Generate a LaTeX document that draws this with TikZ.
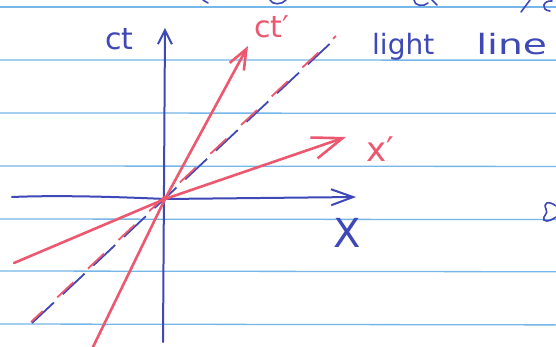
\documentclass[tikz,border=0pt]{standalone}
\usepackage{fontspec}
\setmainfont{DejaVu Sans}
\usetikzlibrary{arrows.meta}
\definecolor{penblue}{RGB}{62,72,182}
\definecolor{penred}{RGB}{236,88,112}
\definecolor{rule}{RGB}{118,182,232}
\tikzset{
  ruleline/.style={rule, line width=1.3pt},
  blueaxis/.style={penblue, line width=2pt, line cap=round},
  redaxis/.style={penred, line width=2.6pt, line cap=round},
  bluelabel/.style={penblue, inner sep=0pt},
  redlabel/.style={penred, inner sep=0pt},
  fragment/.style={penblue, line width=1.6pt, line cap=round},
}
\begin{document}
\begin{tikzpicture}[x=1pt,y=-1pt]
\useasboundingbox (0,0) rectangle (556,347);
\fill[white] (0,0) rectangle (556,347);
% ruled paper lines
\foreach \yy/\dd in {7/0,60/0.5,113/1,166/1.5,219/2,271/2.5,324/3}
  \draw[ruleline] (0,\yy) -- (556,\yy+\dd*0.3);
% fragments of handwriting cut at the edges
\draw[fragment] (203,0) -- (208,3);
\draw[fragment] (270,0) .. controls (272,5) and (282,5) .. (286,0);
\draw[fragment] (414,0) .. controls (414,6) and (424,7) .. (428,3);
\draw[fragment] (432,0) -- (437,5);
\draw[fragment] (521,12) -- (530,0);
\draw[fragment] (552,1) .. controls (543,0) and (540,10) .. (550,11);
\draw[fragment] (556,206) .. controls (548,200) and (543,203) .. (546,209)
  .. controls (549,214) and (542,216) .. (544,220) .. controls (547,223) and (553,219) .. (556,217);
% coordinates
\coordinate (O) at (165,199);
\coordinate (yb) at (163,342);
\coordinate (yt) at (165,28);
\coordinate (xl) at (12,197);
\coordinate (xr) at (356,197);
\coordinate (ctb) at (93,347);
\coordinate (ctt) at (248,46);
\coordinate (xpl) at (14,263);
\coordinate (xpr) at (346,137);
\coordinate (lb) at (32,323);
\coordinate (lt) at (337,37);
% rest frame axes
\draw[blueaxis, -{Straight Barb[length=14pt,width=14pt]}] (yb) -- (yt);
\draw[blueaxis, -{Straight Barb[length=22pt,width=16pt]}] (xl) .. controls (60,195) and (120,197) .. (O) -- (xr);
% light line
\draw[penblue, line width=1.8pt, dash pattern=on 30pt off 12pt] (lb) -- (lt);
\draw[penred, line width=1.8pt, dash pattern=on 22pt off 20pt, dash phase=6pt, transform canvas={xshift=-1pt,yshift=1pt}] (lb) -- (lt);
% moving frame axes
\draw[redaxis, -{Straight Barb[length=20pt,width=16pt]}] (ctb) -- (O) -- (ctt);
\draw[redaxis, -{Straight Barb[length=30pt,width=22pt]}] (xpl) -- (O) -- (xpr);
% labels
\node[bluelabel, anchor=base west, font=\fontsize{30}{30}\selectfont] (lct) at (105,50) {ct};
\node[bluelabel, anchor=base west, font=\fontsize{40}{40}\selectfont] (lx) at (333,247) {X};
\node[redlabel, anchor=base west, font=\fontsize{30}{30}\selectfont] (lctp) at (254,38) {ct′};
\node[redlabel, anchor=base west, font=\fontsize{34}{34}\selectfont] (lxp) at (366,162) {x′};
\node[bluelabel, anchor=base west, font=\fontsize{28}{28}\selectfont] (llight) at (372,55) {light\hspace{42pt}\scalebox{1.4}[1]{line}};
\end{tikzpicture}
\end{document}
